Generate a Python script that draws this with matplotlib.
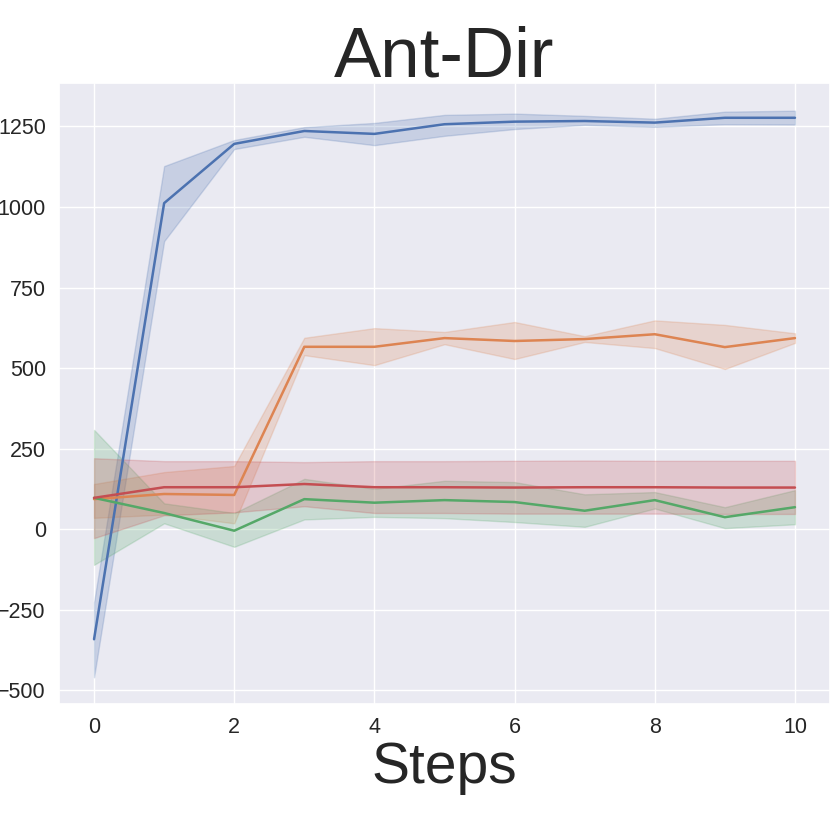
import matplotlib
matplotlib.use("Agg")
import matplotlib.pyplot as plt
import numpy as np
import seaborn as sns

sns.set_theme(style="darkgrid")
plt.rcParams["font.family"] = ["Liberation Sans", "DejaVu Sans"]

steps = np.arange(11)

# mean, upper and lower bound of each run
blue_mean = [-342, 1012, 1196, 1236, 1227, 1257, 1265, 1267, 1262, 1277, 1277]
blue_hi = [-227, 1127, 1208, 1248, 1261, 1286, 1290, 1283, 1274, 1296, 1299]
blue_lo = [-460, 894, 1180, 1218, 1192, 1221, 1242, 1255, 1249, 1257, 1256]

orange_mean = [93, 109, 106, 566, 566, 593, 584, 590, 605, 565, 593]
orange_hi = [140, 177, 196, 594, 624, 612, 643, 599, 648, 634, 608]
orange_lo = [35, 45, 18, 540, 509, 574, 528, 581, 562, 497, 578]

green_mean = [97, 50, -5, 93, 82, 90, 84, 57, 90, 37, 68]
green_hi = [308, 80, 50, 156, 125, 150, 146, 108, 115, 68, 121]
green_lo = [-111, 18, -55, 30, 38, 34, 22, 7, 64, 3, 15]

red_mean = [97, 130, 130, 140, 130, 130, 129, 130, 130, 129, 129]
red_hi = [220, 211, 211, 208, 211, 211, 212, 213, 212, 212, 212]
red_lo = [-28, 43, 52, 71, 50, 50, 48, 48, 48, 47, 47]

series = [
    (blue_mean, blue_lo, blue_hi),
    (orange_mean, orange_lo, orange_hi),
    (green_mean, green_lo, green_hi),
    (red_mean, red_lo, red_hi),
]
colors = sns.color_palette("deep", 4)

fig = plt.figure(figsize=(8.3, 8.3), dpi=100)
ax = fig.add_axes([59 / 830, 126 / 830, 771 / 830, 621 / 830])

for (mean, lo, hi), c in zip(series, colors):
    ax.fill_between(steps, lo, hi, color=c, alpha=0.22, linewidth=1)
    ax.plot(steps, mean, color=c, linewidth=1.8)

ax.set_xlim(-0.5, 10.5)
ax.set_ylim(-543, 1385)
ax.set_xticks([0, 2, 4, 6, 8, 10])
ax.set_yticks([-500, -250, 0, 250, 500, 750, 1000, 1250])
ax.tick_params(labelsize=15.5)
ax.set_title("Ant-Dir", fontsize=51, pad=5)
ax.set_xlabel("Steps", fontsize=41, labelpad=2)

fig.savefig("out.png", dpi=100)
